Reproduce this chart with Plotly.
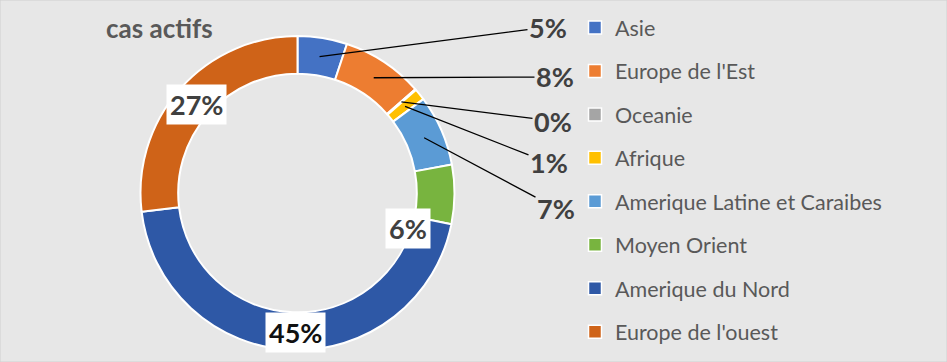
import math
import plotly.graph_objects as go

# ---------------- data ----------------
regions = ["Asie", "Europe de l'Est", "Oceanie", "Afrique",
           "Amerique Latine et Caraibes", "Moyen Orient",
           "Amerique du Nord", "Europe de l'ouest"]
shares = [5.1, 8.4, 0.1, 1.2, 7.3, 6.1, 44.9, 26.9]
colors = ["#4472C4", "#ED7D31", "#A5A5A5", "#FFC000",
          "#5B9BD5", "#78B43F", "#2E58A6", "#CF6318"]
chart_title = "cas actifs"

# ---------------- layout geometry ----------------
W, H = 947, 362
CX, CY, R = 297.5, 193.0, 157.0
HOLE = 0.76
FONT = "Lato"

total = sum(shares)
pct_text = [f"{round(v / total * 100)}%" for v in shares]


def mid_point(i, r):
    before = sum(shares[:i])
    ang = math.radians((before + shares[i] / 2) / total * 360)
    return CX + r * math.sin(ang), CY - r * math.cos(ang)


r_mid = R * (1 + HOLE) / 2

fig = go.Figure()
fig.add_trace(go.Pie(
    labels=regions, values=shares, hole=HOLE, sort=False,
    direction="clockwise", rotation=0, textinfo="none",
    marker=dict(colors=colors, line=dict(color="white", width=2)),
    domain=dict(x=[(CX - R) / W, (CX + R) / W],
                y=[1 - (CY + R) / H, 1 - (CY - R) / H]),
    showlegend=False, hoverinfo="label+percent",
))

# legend entries
for name, col in zip(regions, colors):
    fig.add_trace(go.Scatter(
        x=[None], y=[None], mode="markers", name=name, legendgroup=name,
        marker=dict(symbol="square", size=13, color=col,
                    line=dict(color="white", width=1.5)),
    ))

annotations = []
# outside labels with leader lines (slices 0..4)
outside_pos = {0: (548, 27), 1: (555, 77), 2: (553, 121), 3: (549, 163), 4: (556, 208)}
for i, (lx, ly) in outside_pos.items():
    px, py = mid_point(i, r_mid)
    annotations.append(dict(
        x=px / W, y=1 - py / H, xref="paper", yref="paper",
        ax=lx - px, ay=ly - py, axref="pixel", ayref="pixel",
        text=f"<b>{pct_text[i]}</b>", showarrow=True, arrowhead=0,
        arrowwidth=1.3, arrowcolor="black", standoff=0,
        font=dict(family=FONT, size=27, color="#404040"),
    ))

# inside labels (white boxes)
inside = {5: (-28, -34, "#404040"), 6: (4, -1, "#111111"), 7: (2, -3, "#404040")}
for i, (dx, dy, fc) in inside.items():
    px, py = mid_point(i, r_mid)
    annotations.append(dict(
        x=px / W, y=1 - py / H, xref="paper", yref="paper",
        xanchor="center", yanchor="middle",
        xshift=dx, yshift=dy, showarrow=False,
        text=f"<b>{pct_text[i]}</b>", bgcolor="white", borderpad=3,
        font=dict(family=FONT, size=27, color=fc),
    ))

# title
annotations.append(dict(
    x=104 / W, y=1 - 28 / H, xref="paper", yref="paper",
    xanchor="left", yanchor="middle", showarrow=False,
    text=f"<b>{chart_title}</b>",
    font=dict(family=FONT, size=26, color="#595959"),
))

fig.update_layout(
    width=W, height=H, margin=dict(l=0, r=0, t=0, b=0),
    paper_bgcolor="#E7E7E7", plot_bgcolor="#E7E7E7",
    xaxis=dict(visible=False), yaxis=dict(visible=False),
    annotations=annotations,
    legend=dict(x=575 / W, y=1 - 7 / H, xanchor="left", yanchor="top",
                bgcolor="rgba(0,0,0,0)", tracegroupgap=12.5,
                font=dict(family=FONT, size=21.5, color="#595959"),
                itemclick=False),
    shapes=[dict(type="rect", xref="paper", yref="paper", x0=0, y0=0, x1=1, y1=1,
                 line=dict(color="#D0D0D0", width=1))],
)

fig.write_html("out.html",
               config={"displayModeBar": False},
               post_script="document.body.style.margin='0';document.body.style.overflow='hidden';")
